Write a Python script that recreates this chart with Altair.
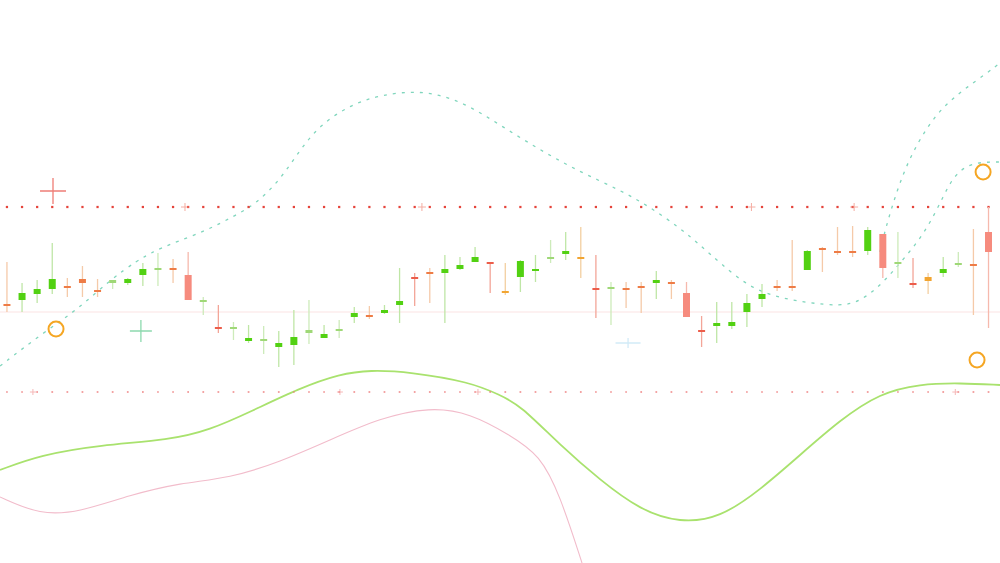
import altair as alt
import pandas as pd

# ---- candlestick sessions (price units) ----
opens = [25.8, 26.3, 26.9, 27.4, 27.6, 28.3, 27.2, 28.1, 28.1, 28.8,
         29.4, 29.4, 28.8, 26.2, 23.5, 23.5, 22.2, 22.3, 21.7, 21.8,
         23.1, 22.6, 23.3, 24.6, 24.7, 25.0, 25.8, 28.5, 29.0, 29.0,
         29.4, 30.1, 30.0, 27.1, 28.6, 29.3, 30.5, 31.0, 30.5, 27.4,
         27.5, 27.4, 27.6, 28.1, 28.0, 27.0, 23.2, 23.7, 23.8, 25.1,
         26.4, 27.6, 27.6, 29.3, 31.4, 31.1, 31.1, 31.2, 32.9, 30.0,
         27.9, 28.5, 29.1, 29.9, 29.8, 33.1]
highs = [30.1, 28.0, 28.3, 32.0, 28.5, 29.7, 28.4, 28.3, 28.5, 30.0,
         31.0, 30.4, 31.1, 26.6, 25.8, 24.1, 23.8, 23.7, 23.2, 25.3,
         26.3, 23.8, 24.3, 25.6, 25.7, 25.8, 29.5, 29.0, 29.5, 30.8,
         30.6, 31.6, 30.1, 30.0, 30.3, 30.8, 32.3, 33.1, 33.6, 30.8,
         28.1, 28.1, 28.1, 29.2, 28.3, 28.1, 24.7, 26.1, 26.1, 26.9,
         27.9, 28.3, 32.3, 31.3, 31.6, 33.6, 33.7, 33.6, 32.9, 33.1,
         30.5, 29.0, 30.6, 31.1, 33.4, 35.6]
lows = [25.1, 25.1, 26.0, 26.9, 26.6, 26.6, 26.6, 27.4, 27.8, 27.7,
        27.7, 28.0, 26.3, 24.8, 23.0, 22.3, 22.0, 20.9, 19.6, 19.8,
        21.9, 22.5, 22.5, 24.0, 24.4, 24.9, 24.0, 25.7, 26.0, 24.0,
        29.3, 30.1, 27.0, 26.8, 27.1, 28.1, 30.0, 30.3, 28.5, 24.5,
        23.8, 25.5, 25.0, 26.4, 26.4, 24.6, 21.6, 22.0, 23.4, 23.6,
        25.6, 27.2, 27.2, 29.3, 29.1, 30.8, 30.6, 30.8, 28.5, 28.5,
        27.5, 26.9, 28.6, 29.6, 24.8, 23.5]
closes = [25.8, 27.0, 27.4, 28.4, 27.6, 28.1, 27.2, 28.2, 28.3, 29.4,
          29.4, 29.4, 26.3, 26.2, 23.5, 23.5, 22.5, 22.3, 21.9, 22.6,
          23.2, 22.8, 23.3, 25.0, 24.7, 25.3, 26.2, 28.5, 29.0, 29.4,
          29.8, 30.6, 30.0, 27.1, 30.2, 29.3, 30.5, 31.1, 30.5, 27.4,
          27.5, 27.4, 27.6, 28.2, 28.0, 24.6, 23.2, 24.0, 24.0, 26.0,
          26.9, 27.6, 27.6, 31.2, 31.4, 31.1, 31.1, 33.3, 29.5, 30.0,
          27.9, 28.3, 29.3, 29.9, 29.8, 31.1]
kinds = ["fl", "up", "up", "up", "fl", "fl", "fl", "upl", "up", "up",
         "upl", "fl", "dn", "upl", "dr", "upl", "up", "upl", "up", "up",
         "upl", "up", "upl", "up", "fl", "up", "up", "dr", "fl", "up",
         "up", "up", "dr", "yl", "up", "up", "upl", "up", "yl", "dr",
         "upl", "fl", "fl", "up", "fl", "dn", "dr", "up", "up", "up",
         "up", "fl", "fl", "up", "fl", "fl", "fl", "up", "dn", "upl",
         "dr", "yl", "up", "upl", "fl", "dn"]

# ---- indicator curves (session position, value) ----
ma_t = [-0.46, 2.19, 6.16, 10.79, 13.44, 16.09, 19.40, 22.05, 24.04, 26.69,
        30.66, 32.65, 33.97, 36.62, 39.27, 41.92, 44.57, 47.22, 49.87, 52.52,
        55.17, 57.81, 60.46, 63.11, 65.76]
ma_v = [9.3, 10.8, 11.8, 12.3, 13.3, 15.1, 17.5, 18.9, 19.3, 19.1,
        18.1, 16.8, 15.8, 11.8, 8.3, 5.3, 4.0, 4.5, 7.3, 10.8,
        14.3, 17.0, 17.9, 18.0, 17.8]

osc_t = [-0.46, 2.19, 4.83, 8.15, 11.46, 14.77, 18.08, 21.39, 24.70, 28.01,
         30.66, 33.31, 35.30, 36.62, 38.08]
osc_v = [6.6, 4.8, 5.1, 6.8, 8.0, 8.5, 10.1, 12.3, 14.5, 15.6,
         15.0, 12.8, 10.8, 6.8, 0.0]

trend_t = [-0.46, 2.38, 4.64, 6.82, 8.68, 9.67, 10.66, 13.31, 14.90, 16.42,
           18.08, 19.40, 20.73, 22.72, 24.70, 27.35, 30.00, 32.65, 35.30, 37.95,
           40.60, 42.58, 44.57, 45.89, 47.22, 49.21, 51.19, 53.18, 55.17, 56.49,
           58.01, 59.14, 60.26, 61.13, 61.99, 62.65, 63.58, 64.64, 65.76]
trend_v = [19.7, 23.0, 25.3, 28.3, 30.3, 31.1, 31.8, 33.3, 34.6, 35.8,
           38.3, 41.3, 43.8, 45.8, 46.8, 47.3, 46.3, 43.8, 41.3, 39.1,
           37.3, 35.6, 33.5, 31.8, 30.0, 27.5, 26.5, 26.0, 25.7, 26.1,
           28.0, 30.0, 32.0, 34.0, 36.6, 38.6, 39.8, 40.1, 40.1]

branch_t = [57.81, 58.15, 58.94, 59.80, 60.93, 61.99, 63.31, 64.90, 65.76]
branch_v = [31.1, 33.3, 37.3, 40.6, 43.6, 45.6, 47.3, 49.0, 50.0]

# ---- levels and annotations ----
upper_level = 35.6
lower_level = 17.1
base_level = 25.1
upper_ticks_t = [11.79, 27.48, 49.3, 56.1]
lower_ticks_t = [1.72, 22.05, 31.19, 62.8]
circle_t = [3.25, 64.64, 64.24]
circle_v = [23.4, 39.1, 20.3]

n = len(opens)
idx = list(range(n))

candles = pd.DataFrame({"t": idx, "o": opens, "h": highs, "l": lows,
                        "c": closes, "kind": kinds})
candles["lo"] = candles[["o", "c"]].min(axis=1)
candles["hi"] = candles[["o", "c"]].max(axis=1)
flat = (candles["hi"] - candles["lo"]) < 0.2
candles.loc[flat, "lo"] = candles.loc[flat, "lo"] - 0.1
candles.loc[flat, "hi"] = candles.loc[flat, "hi"] + 0.1

kind_dom = ["up", "upl", "dn", "dr", "fl", "yl"]
body_rng = ["#52d112", "#9fd877", "#f68b7e", "#ec5d4a", "#ee7c46", "#f2a531"]
wick_rng = ["#bfe6a6", "#cdebba", "#f6b9ad", "#f3a598", "#f5caa9", "#f3cfa0"]

xs = alt.Scale(domain=[-0.46, 65.76], nice=False, zero=False, padding=0)
ys = alt.Scale(domain=[0, 56.3], nice=False, zero=False, padding=0)


def X(field="t"):
    return alt.X(f"{field}:Q", scale=xs, axis=None)


def Y(field):
    return alt.Y(f"{field}:Q", scale=ys, axis=None)


base_line = alt.Chart(pd.DataFrame({"v": [base_level]})).mark_rule(
    color="#fbe3e3", strokeWidth=1
).encode(y=Y("v"))

ma = alt.Chart(pd.DataFrame({"t": ma_t, "v": ma_v})).mark_line(
    color="#a9e26e", strokeWidth=1.8, interpolate="basis"
).encode(x=X(), y=Y("v"))

osc = alt.Chart(pd.DataFrame({"t": osc_t, "v": osc_v})).mark_line(
    color="#f2bccb", strokeWidth=1.1, interpolate="basis", clip=True
).encode(x=X(), y=Y("v"))

trend_df = pd.concat([
    pd.DataFrame({"t": trend_t, "v": trend_v, "s": "main"}),
    pd.DataFrame({"t": branch_t, "v": branch_v, "s": "branch"}),
])
trend = alt.Chart(trend_df).mark_line(
    color="#80d6bd", strokeWidth=1.3, strokeDash=[3, 6], interpolate="basis"
).encode(x=X(), y=Y("v"), detail="s:N")

upper_dots = alt.Chart(pd.DataFrame({"t": idx, "v": [upper_level] * n})).mark_point(
    shape="square", filled=True, size=5, color="#e43a30", opacity=0.95
).encode(x=X(), y=Y("v"))
lower_dots = alt.Chart(pd.DataFrame({"t": idx, "v": [lower_level] * n})).mark_point(
    shape="square", filled=True, size=3, color="#ee7a7a", opacity=0.8
).encode(x=X(), y=Y("v"))

plus = "M-1,0H1M0,-1V1"
upper_ticks = alt.Chart(pd.DataFrame({"t": upper_ticks_t,
                                      "v": [upper_level] * len(upper_ticks_t)})).mark_point(
    shape=plus, filled=False, size=64, color="#f08a7a", strokeWidth=1
).encode(x=X(), y=Y("v"))
lower_ticks = alt.Chart(pd.DataFrame({"t": lower_ticks_t,
                                      "v": [lower_level] * len(lower_ticks_t)})).mark_point(
    shape=plus, filled=False, size=36, color="#f29a9a", strokeWidth=1
).encode(x=X(), y=Y("v"))

wicks = alt.Chart(candles).mark_rule(strokeWidth=1.3).encode(
    x=X(), y=Y("l"), y2="h:Q",
    color=alt.Color("kind:N", scale=alt.Scale(domain=kind_dom, range=wick_rng), legend=None),
)
bodies = alt.Chart(candles).mark_bar(size=7, opacity=1).encode(
    x=X(), y=Y("lo"), y2="hi:Q",
    color=alt.Color("kind:N", scale=alt.Scale(domain=kind_dom, range=body_rng), legend=None),
)
candle_layer = alt.layer(wicks, bodies).resolve_scale(color="independent")

red_cross = alt.Chart(pd.DataFrame({"t": [3.05], "v": [37.2]})).mark_point(
    shape=plus, filled=False, size=676, color="#e8473c", strokeWidth=1.3
).encode(x=X(), y=Y("v"))
green_cross = alt.Chart(pd.DataFrame({"t": [8.87], "v": [23.2]})).mark_point(
    shape=plus, filled=False, size=484, color="#5cc98c", strokeWidth=1.3
).encode(x=X(), y=Y("v"))
blue_mark = alt.Chart(pd.DataFrame({"t": [41.13], "v": [22.0]})).mark_point(
    shape="M-1,0H1M0,-0.4V0.4", filled=False, size=625, color="#bfe2f4", strokeWidth=1.3
).encode(x=X(), y=Y("v"))
circles = alt.Chart(pd.DataFrame({"t": circle_t, "v": circle_v})).mark_point(
    shape="circle", filled=False, size=225, color="#f5a623", strokeWidth=2, opacity=1
).encode(x=X(), y=Y("v"))

chart = alt.layer(
    base_line, osc, ma, trend, lower_dots, upper_dots, lower_ticks, upper_ticks,
    candle_layer, red_cross, green_cross, blue_mark, circles,
).resolve_scale(color="independent").properties(
    width=1000, height=563, padding=0,
    autosize=alt.AutoSizeParams(type="none"), background="#ffffff",
).configure_view(stroke=None)

chart.save("out.html", embed_options={"renderer": "svg", "actions": False})
